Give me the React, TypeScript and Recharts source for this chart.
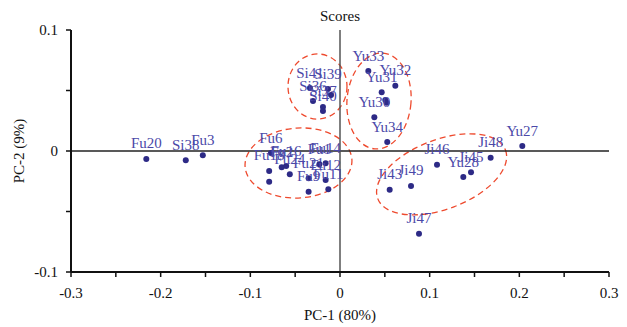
import React from 'react';
import { ScatterChart, Scatter, XAxis, YAxis, ReferenceLine, ReferenceArea } from 'recharts';

// Sample labels ('' = point without a visible label)
const sampleNames = [
  'Fu20', 'Si38', 'Fu3',
  'Fu6', 'Fu18', '', 'Fu2', 'Fu16', 'Fu24', 'Fu21', 'Fu9', 'Fu1', 'Fu14', 'Fu12', 'Fu11',
  'Si41', 'Si39', 'Si36', 'Si37', 'Si40', '',
  'Yu33', 'Yu32', 'Yu31', '', '', 'Yu30', 'Yu34',
  'Yu27', 'Yu28', 'Ji48', 'Ji45', 'Ji46', 'Ji43', 'Ji49', 'Ji47',
];
const pc1Scores = [
  -0.216, -0.172, -0.153,
  -0.077, -0.079, -0.079, -0.065, -0.060, -0.056, -0.035, -0.035, -0.023, -0.016, -0.016, -0.013,
  -0.0335, -0.0134, -0.0301, -0.019, -0.019, -0.010,
  0.0316, 0.0617, 0.0465, 0.0505, 0.0521, 0.0383, 0.0527,
  0.2033, 0.1375, 0.168, 0.1461, 0.1082, 0.0554, 0.0792, 0.0881,
];
const pc2Scores = [
  -0.0066, -0.0077, -0.0036,
  -0.0017, -0.0165, -0.0254, -0.0135, -0.0124, -0.0193, -0.0226, -0.0336, -0.011, -0.0102, -0.024, -0.0317,
  0.052, 0.0512, 0.0413, 0.0364, 0.033, 0.0463,
  0.0661, 0.054, 0.0485, 0.0421, 0.0399, 0.0279, 0.0074,
  0.0041, -0.0215, -0.0055, -0.0176, -0.0113, -0.032, -0.0289, -0.0683,
];

// Cluster ellipses (centre and semi-axes in data units, rotation in degrees)
const clusterCenterX = [-0.0251, 0.0435, -0.0463, 0.1133];
const clusterCenterY = [0.0533, 0.0413, -0.0099, -0.0193];
const clusterRadiusX = [0.0329, 0.0357, 0.0597, 0.0762];
const clusterRadiusY = [0.0269, 0.0397, 0.0289, 0.0287];
const clusterAngle = [0, 5, -4, -20.8];

const xTickValues = [-0.3, -0.25, -0.2, -0.15, -0.1, -0.05, 0, 0.05, 0.1, 0.15, 0.2, 0.25, 0.3];
const xLabeledTicks = [-0.3, -0.2, -0.1, 0, 0.1, 0.2, 0.3];
const yTickValues = [-0.1, -0.05, 0, 0.05, 0.1];
const yLabeledTicks = [-0.1, 0, 0.1];

const points = sampleNames.map((name, i) => ({ name, x: pc1Scores[i], y: pc2Scores[i] }));

const FONT = '"Liberation Serif", "Times New Roman", serif';
const DOT = '#2d2a86';
const LABEL = '#4b48a8';
const RING = '#ee4a2e';

const fmt = (labeled: number[]) => (v: number) => {
  if (!labeled.some((t) => Math.abs(t - v) < 1e-9)) return '';
  return Math.abs(v) < 1e-9 ? '0' : v.toFixed(1);
};

const PointShape = (props: any) => {
  const { cx, cy, payload } = props;
  if (cx == null || cy == null) return <g />;
  return (
    <g>
      <circle cx={cx} cy={cy} r={3} fill={DOT} />
      {payload.name ? (
        <text x={cx} y={cy - 10.5} textAnchor="middle" fontSize={15} fontFamily={FONT} fill={LABEL}>
          {payload.name}
        </text>
      ) : null}
    </g>
  );
};

const makeEllipse = (angle: number) => (p: any) => {
  const cx = p.x + p.width / 2;
  const cy = p.y + p.height / 2;
  return (
    <ellipse
      cx={cx}
      cy={cy}
      rx={Math.abs(p.width / 2)}
      ry={Math.abs(p.height / 2)}
      transform={`rotate(${angle} ${cx} ${cy})`}
      fill="none"
      stroke={RING}
      strokeWidth={1.3}
      strokeDasharray="6 4"
    />
  );
};

export default function App() {
  return (
    <div style={{ position: 'relative', width: 619, height: 319, fontFamily: FONT }}>
      <div
        style={{
          position: 'absolute',
          left: 332,
          top: 1,
          transform: 'translateX(-50%)',
          fontSize: 15,
          lineHeight: '15px',
          color: '#111',
          fontFamily: FONT,
        }}
      >
        Scores
      </div>
      <ScatterChart width={619} height={319} margin={{ top: 22, right: 18, bottom: 5, left: 5 }}>
        <XAxis
          type="number"
          dataKey="x"
          domain={[-0.3, 0.3]}
          ticks={xTickValues}
          tickFormatter={fmt(xLabeledTicks)}
          interval={0}
          height={50}
          axisLine={{ stroke: '#111', strokeWidth: 2 }}
          tickLine={{ stroke: '#111', strokeWidth: 1.5 }}
          tickSize={5}
          tickMargin={10}
          tick={{ fill: '#111', fontSize: 15, fontFamily: FONT }}
          label={{ value: 'PC-1 (80%)', position: 'insideBottom', offset: 2, fill: '#111', fontSize: 15, fontFamily: FONT }}
        />
        <YAxis
          type="number"
          dataKey="y"
          domain={[-0.1, 0.1]}
          ticks={yTickValues}
          tickFormatter={fmt(yLabeledTicks)}
          interval={0}
          width={58}
          axisLine={{ stroke: '#111', strokeWidth: 2 }}
          tickLine={{ stroke: '#111', strokeWidth: 1.5 }}
          tickSize={5}
          tickMargin={8}
          tick={{ fill: '#111', fontSize: 15, fontFamily: FONT }}
          label={{ value: 'PC-2 (9%)', angle: -90, position: 'insideLeft', offset: 6, fill: '#111', fontSize: 15, fontFamily: FONT, style: { textAnchor: 'middle' } }}
        />
        <ReferenceLine y={0} stroke="#222" strokeWidth={1.5} />
        <ReferenceLine x={0} stroke="#555" strokeWidth={1.5} />
        {clusterCenterX.map((cx, i) => (
          <ReferenceArea
            key={i}
            x1={cx - clusterRadiusX[i]}
            x2={cx + clusterRadiusX[i]}
            y1={clusterCenterY[i] - clusterRadiusY[i]}
            y2={clusterCenterY[i] + clusterRadiusY[i]}
            ifOverflow="visible"
            shape={makeEllipse(clusterAngle[i])}
          />
        ))}
        <Scatter data={points} shape={PointShape} isAnimationActive={false} />
      </ScatterChart>
    </div>
  );
}
